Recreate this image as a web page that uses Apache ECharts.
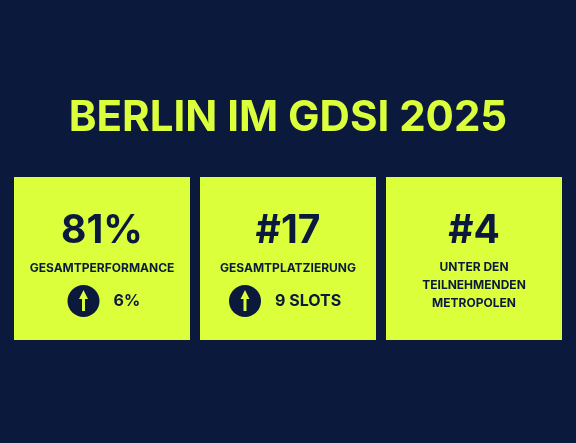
<!DOCTYPE html>
<html><head><meta charset="utf-8">
<script src="https://cdn.jsdelivr.net/npm/echarts@6/dist/echarts.min.js"></script>
<style>html,body{margin:0;padding:0;background:#0b1a3c}#c{width:576px;height:443px}</style>
</head><body><div id="c"></div>
<script>
const title = "BERLIN IM GDSI 2025";
const values = ["81%", "#17", "#4"];
const labels = ["GESAMTPERFORMANCE", "GESAMTPLATZIERUNG", "UNTER DEN\nTEILNEHMENDEN\nMETROPOLEN"];
const deltas = ["6%", "9 SLOTS", null];

const NAVY = "#0b1a3c", LIME = "#dcff3c";
const F = "'Inter','DejaVu Sans',sans-serif";
const cardX = [14, 200, 386], cardW = 176, cardY = 177, cardH = 163;
const els = [{type:'text', x:288, y:118, style:{text:title, fill:LIME, font:"bold 42px "+F, align:'center', verticalAlign:'middle'}}];
values.forEach((v,i)=>{
  const cx = cardX[i] + cardW/2;
  els.push({type:'rect', shape:{x:cardX[i], y:cardY, width:cardW, height:cardH}, style:{fill:LIME}});
  els.push({type:'text', x:cx, y:231, style:{text:v, fill:NAVY, font:"bold 39px "+F, align:'center', verticalAlign:'middle'}});
  els.push({type:'text', x:cx, y: deltas[i] ? 259 : 258, style:{text:labels[i], fill:NAVY, font:"bold 12px "+F, align:'center', verticalAlign:'top', lineHeight:18}});
  if (deltas[i]) {
    const tw = i===0 ? 23 : 72;
    const total = 32 + 14 + tw;
    const ccx = cx - total/2 + 16;
    els.push({type:'circle', shape:{cx:ccx, cy:301, r:16}, style:{fill:NAVY}});
    els.push({type:'polygon', shape:{points:[[ccx,290],[ccx-4.5,299],[ccx-1.5,299],[ccx-1.5,311],[ccx+1.5,311],[ccx+1.5,299],[ccx+4.5,299]]}, style:{fill:LIME}});
    els.push({type:'text', x:ccx+16+14, y:301, style:{text:deltas[i], fill:NAVY, font:"bold 16px "+F, align:'left', verticalAlign:'middle'}});
  }
});
const chart = echarts.init(document.getElementById('c'));
chart.setOption({backgroundColor:NAVY, graphic:els});
</script></body></html>
